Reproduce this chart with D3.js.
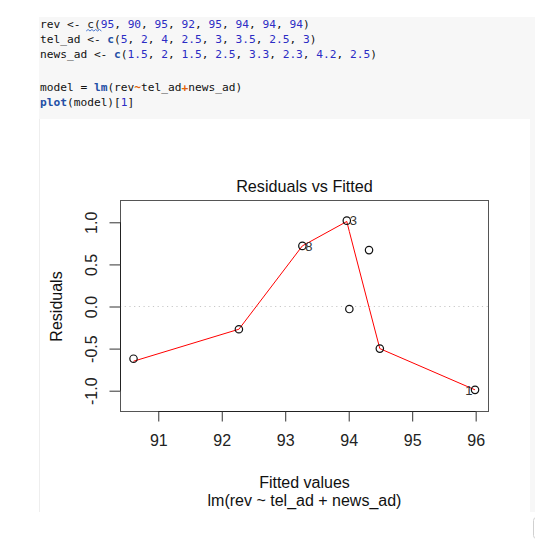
<!DOCTYPE html>
<html>
<head>
<meta charset="utf-8">
<script src="https://cdn.jsdelivr.net/npm/d3@7"></script>
<style>
  html, body { margin: 0; padding: 0; background: #fff; }
  svg { display: block; }
</style>
</head>
<body>
<svg id="chart" width="535" height="551"></svg>
<script>
// ---- Data ----
const obsIds     = ["1", "2", "3", "4", "5", "6", "7", "8"];
const fitted     = [95.99, 90.61, 93.97, 92.27, 94.32, 94.01, 94.49, 93.27];
const residuals  = [-0.99, -0.62, 1.02, -0.27, 0.67, -0.03, -0.50, 0.72];
const labelled   = ["1", "3", "8"];            // extreme residuals annotated
const labelSide  = ["left", "right", "right"];
// lowess smoother, evaluated at sorted fitted values
const smoothX    = [90.61, 92.27, 93.27, 93.97, 94.01, 94.32, 94.49, 95.99];
const smoothY    = [-0.65, -0.27, 0.72, 1.01, 0.89, -0.01, -0.50, -0.99];
const xTicks     = [91, 92, 93, 94, 95, 96];
const yTicks     = [-1.0, -0.5, 0.0, 0.5, 1.0];
const titleText  = "Residuals vs Fitted";
const xLabel     = "Fitted values";
const subLabel   = "lm(rev ~ tel_ad + news_ad)";
const yLabel     = "Residuals";

// code cell lines as [text, type] tokens
const codeLines = [
  [["rev <- ","t"],["c","s"],["(","t"],["95","n"],[", ","t"],["90","n"],[", ","t"],["95","n"],[", ","t"],["92","n"],[", ","t"],["95","n"],[", ","t"],["94","n"],[", ","t"],["94","n"],[", ","t"],["94","n"],[")","t"]],
  [["tel_ad <- ","t"],["c","f"],["(","t"],["5","n"],[", ","t"],["2","n"],[", ","t"],["4","n"],[", ","t"],["2.5","n"],[", ","t"],["3","n"],[", ","t"],["3.5","n"],[", ","t"],["2.5","n"],[", ","t"],["3","n"],[")","t"]],
  [["news_ad <- ","t"],["c","f"],["(","t"],["1.5","n"],[", ","t"],["2","n"],[", ","t"],["1.5","n"],[", ","t"],["2.5","n"],[", ","t"],["3.3","n"],[", ","t"],["2.3","n"],[", ","t"],["4.2","n"],[", ","t"],["2.5","n"],[")","t"]],
  [["model = ","t"],["lm","f"],["(rev","t"],["~","o"],["tel_ad","t"],["+","o"],["news_ad)","t"]],
  [["plot","f"],["(model)[","t"],["1","n"],["]","t"]]
];
const codeBaselines = [28, 43, 58, 91, 105.5];

const svg = d3.select("#chart");

// ---- notebook cell backgrounds ----
svg.append("rect").attr("x", 39).attr("y", 17).attr("width", 496).attr("height", 102).attr("fill", "#f7f7f7");
svg.append("rect").attr("x", 530).attr("y", 119).attr("width", 5).attr("height", 393).attr("fill", "#f7f7f7");
svg.append("line").attr("x1", 39.5).attr("x2", 39.5).attr("y1", 119).attr("y2", 512).attr("stroke", "#eeeeee");
svg.append("rect").attr("x", 533.5).attr("y", 517.5).attr("width", 10).attr("height", 21).attr("rx", 3)
  .attr("fill", "none").attr("stroke", "#d0d0d0");

// ---- code text ----
const colors = { t: "#111111", s: "#222222", n: "#2c2cc4", f: "#2350a6", o: "#e0640a" };
const weights = { t: "normal", s: "normal", n: "normal", f: "bold", o: "bold" };
const codeFs = 11.2;
const codeG = svg.append("g").attr("font-family", "'DejaVu Sans Mono', monospace").attr("font-size", codeFs);
codeLines.forEach((tokens, i) => {
  const t = codeG.append("text").attr("x", 40).attr("y", codeBaselines[i]).attr("xml:space", "preserve");
  tokens.forEach(([txt, type]) => {
    t.append("tspan").text(txt).attr("fill", colors[type]).attr("font-weight", weights[type])
      .style("white-space", "pre");
  });
});
// spell-check squiggle under the first "c"
{
  const cw = codeFs * 0.602, x0 = 40 + 7 * cw - 1, y0 = 31;
  let p = `M${x0},${y0}`;
  for (let k = 1; k <= 8; k++) p += ` L${x0 + k * 1.9},${y0 + (k % 2 ? -1.5 : 0)}`;
  codeG.append("path").attr("d", p).attr("fill", "none").attr("stroke", "#4a78d0").attr("stroke-width", 1);
}

// ---- plot ----
const box = { left: 120, right: 489, top: 200, bottom: 412 };
const x = d3.scaleLinear().domain([90.397, 96.21]).range([box.left, box.right]);
const y = d3.scaleLinear().domain([-1.253, 1.265]).range([box.bottom, box.top]);
const font = "'Liberation Sans', Arial, Helvetica, sans-serif";
const fs = 16;
const fmtY = d => d.toFixed(1);

// dotted zero line
svg.append("line")
  .attr("x1", box.left).attr("x2", box.right)
  .attr("y1", y(0)).attr("y2", y(0))
  .attr("stroke", "#c8c8c8").attr("stroke-width", 1).attr("stroke-dasharray", "1.2,3.5");

// box
svg.append("rect")
  .attr("x", box.left + 0.5).attr("y", box.top + 0.5)
  .attr("width", box.right - box.left - 1).attr("height", box.bottom - box.top - 1)
  .attr("fill", "none").attr("stroke", "#555").attr("stroke-width", 1);

// x axis
const xAxis = svg.append("g")
  .attr("transform", `translate(0,${box.bottom - 0.5})`)
  .call(d3.axisBottom(x).tickValues(xTicks).tickFormat(d3.format("d")).tickSize(10).tickPadding(13).tickSizeOuter(0));
xAxis.select(".domain").attr("d", `M${x(xTicks[0])},0H${x(xTicks[xTicks.length - 1])}`).attr("stroke", "#222");
xAxis.selectAll(".tick line").attr("stroke", "#333");
xAxis.selectAll(".tick text").attr("font-family", font).attr("font-size", fs).attr("fill", "#222");

// y axis
const yAxis = svg.append("g")
  .attr("transform", `translate(${box.left + 0.5},0)`)
  .call(d3.axisLeft(y).tickValues(yTicks).tickFormat(fmtY).tickSize(11).tickSizeOuter(0));
yAxis.select(".domain").attr("d", `M0,${y(yTicks[0])}V${y(yTicks[yTicks.length - 1])}`).attr("stroke", "#222");
yAxis.selectAll(".tick line").attr("stroke", "#333");
yAxis.selectAll(".tick text")
  .attr("font-family", font).attr("font-size", fs).attr("fill", "#222")
  .attr("x", 0).attr("y", 0).attr("dy", "0.35em")
  .attr("text-anchor", "middle")
  .attr("transform", "translate(-29.5,0) rotate(-90)");

// lowess smoother
const smooth = smoothX.map((v, i) => [v, smoothY[i]]);
svg.append("path")
  .datum(smooth)
  .attr("d", d3.line().x(d => x(d[0])).y(d => y(d[1])))
  .attr("fill", "none").attr("stroke", "#ff0000").attr("stroke-width", 1);

// points
const pts = fitted.map((f, i) => ({ f, r: residuals[i], id: obsIds[i] }));
svg.append("g").selectAll("circle").data(pts).join("circle")
  .attr("cx", d => x(d.f)).attr("cy", d => y(d.r)).attr("r", 3.7)
  .attr("fill", "none").attr("stroke", "#111").attr("stroke-width", 1.2);

// id labels
svg.append("g").selectAll("text").data(labelled).join("text")
  .attr("font-family", font).attr("font-size", 13).attr("fill", "#333")
  .attr("x", (id, i) => {
    const p = pts.find(q => q.id === id);
    return labelSide[i] === "left" ? x(p.f) - 2.5 : x(p.f) + 3;
  })
  .attr("y", id => y(pts.find(q => q.id === id).r))
  .attr("dy", "0.36em")
  .attr("text-anchor", (id, i) => labelSide[i] === "left" ? "end" : "start")
  .text(d => d);

// titles
const cx = (box.left + box.right) / 2;
svg.append("text").attr("x", cx).attr("y", 192).attr("text-anchor", "middle")
  .attr("font-family", font).attr("font-size", 16.2).attr("fill", "#111").text(titleText);
svg.append("text").attr("x", cx).attr("y", 487.5).attr("text-anchor", "middle")
  .attr("font-family", font).attr("font-size", fs).attr("fill", "#111").text(xLabel);
svg.append("text").attr("x", cx).attr("y", 505.5).attr("text-anchor", "middle")
  .attr("font-family", font).attr("font-size", fs).attr("fill", "#111").text(subLabel);
svg.append("text").attr("x", 0).attr("y", 0).attr("dy", "0.35em").attr("text-anchor", "middle")
  .attr("transform", `translate(56,${y(0)}) rotate(-90)`)
  .attr("font-family", font).attr("font-size", fs).attr("fill", "#111").text(yLabel);
</script>
</body>
</html>
